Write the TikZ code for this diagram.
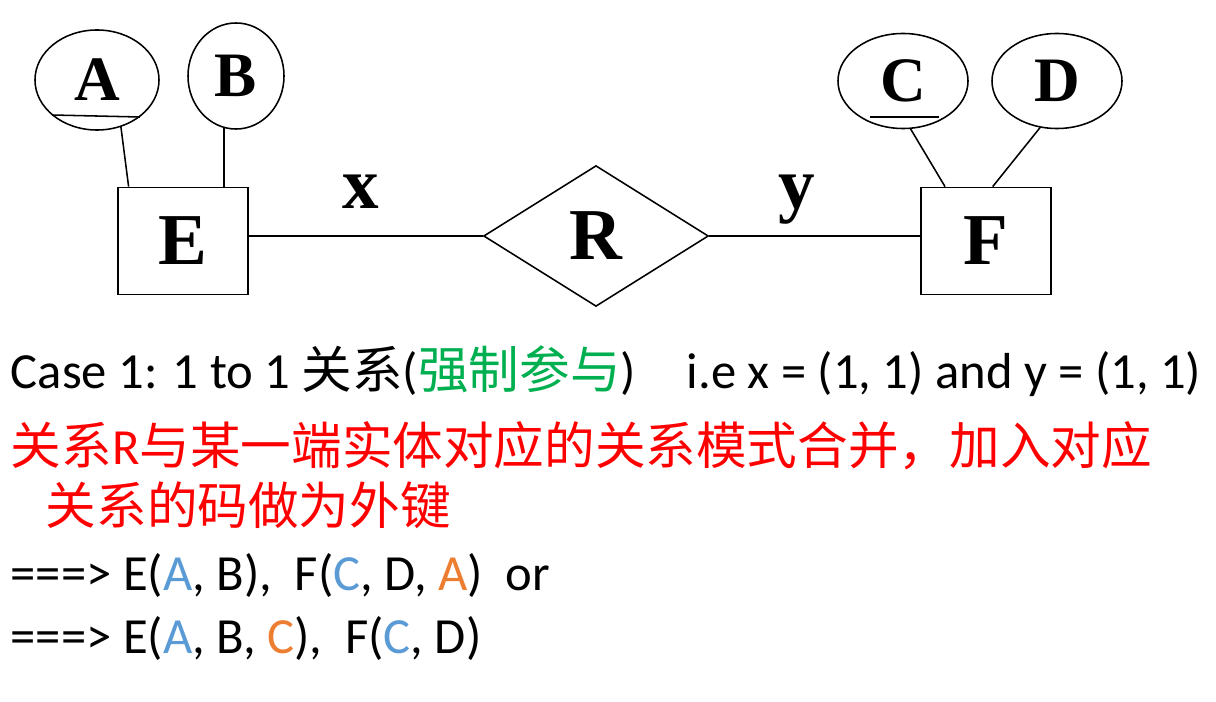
\documentclass[tikz,border=0pt]{standalone}
\usepackage{fontspec}
\setmainfont{Carlito}
\newfontfamily\cjk{Noto Sans CJK SC}
\newfontfamily\erfont{Liberation Serif}
\usetikzlibrary{shapes.geometric}
\definecolor{keyblue}{HTML}{5B9BD5}
\definecolor{fkorange}{HTML}{ED7D31}
\definecolor{mustgreen}{HTML}{00B050}

\begin{document}
\begin{tikzpicture}[x=.025cm,y=-.025cm,line width=1.1pt,
  attr/.style={draw,ellipse,inner sep=0pt,font=\erfont\bfseries\fontsize{45}{45}\selectfont},
  ent/.style={draw,rectangle,inner sep=0pt,minimum width=3.25cm,minimum height=2.68cm,font=\erfont\bfseries\fontsize{52}{52}\selectfont},
  rel/.style={draw,diamond,inner sep=0pt,minimum width=5.62cm,minimum height=3.52cm,font=\erfont\bfseries\fontsize{52}{52}\selectfont},
  card/.style={anchor=base,inner sep=0pt,font=\erfont\bfseries\fontsize{52}{52}\selectfont},
  txt/.style={anchor=base west,inner sep=0pt,font=\fontsize{36}{43}\selectfont}]
\useasboundingbox (0,0) rectangle (1216,702);
\node[attr,minimum width=3.1cm,minimum height=2.5cm] (A) at (97,80) {A};
\node[attr,minimum width=2.4cm,minimum height=2.65cm] (B) at (236,76) {B};
\node[attr,minimum width=3.25cm,minimum height=2.375cm] (C) at (903,81) {C};
\node[attr,minimum width=3.25cm,minimum height=2.375cm] (D) at (1057,81) {D};
\node[ent] (E) at (183,241) {E};
\node[rel] (R) at (596,236) {R};
\node[ent] (F) at (986,241) {F};
\node[card] (x) at (361,208) {x};
\node[card] (y) at (797,208) {y};
\draw (A.-63)--(E.135);
\draw (B.-103)--(B.-103|-E.north);
\draw (C.-81)--(F.127);
\draw (D.-110)--(F.83);
\draw (R.west)--(R.west-|E.east);
\draw (R.east)--(R.east-|F.west);
\draw ([shift={(-45,35)}]A.center)--([shift={(43,37)}]A.center);
\draw ([shift={(-33,36)}]C.center)--([shift={(36,36)}]C.center);
\node[txt] (case) at (10,388) {Case 1: 1 to 1 {\cjk 关系}({\color{mustgreen}\cjk 强制参与})};
\node[txt] (ie) at (686,388) {i.e x = (1, 1) and y = (1, 1)};
\node[txt,red] (rule1) at (10,464) {{\cjk 关系}R{\cjk 与某一端实体对应的关系模式合并，加入对应}};
\node[txt,red] (rule2) at (45,524) {\cjk 关系的码做为外键};
\node[txt] (opt1) at (10,590) {===> E({\color{keyblue}A}, B),\ \ F({\color{keyblue}C}, D, {\color{fkorange}A})\ \ or};
\node[txt] (opt2) at (10,653) {===> E({\color{keyblue}A}, B, {\color{fkorange}C}),\ \ F({\color{keyblue}C}, D)};
\end{tikzpicture}
\end{document}
